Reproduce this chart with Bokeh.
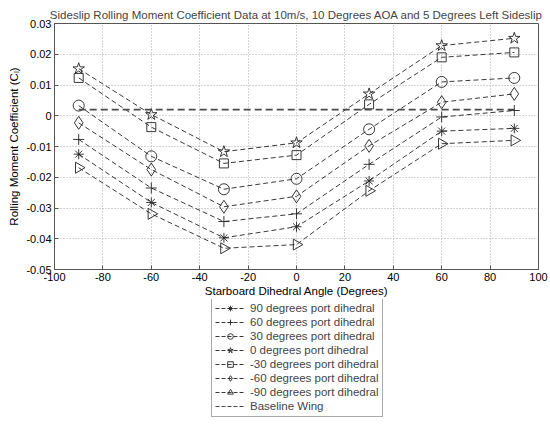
import math
from bokeh.plotting import figure
from bokeh.models import Range1d, FixedTicker, Legend, LegendItem
from bokeh.layouts import column
from bokeh.embed import file_html
from bokeh.resources import INLINE

# ---- data ----
angles = [-90, -60, -30, 0, 30, 60, 90]
port_90 = [-0.0125, -0.0282, -0.0397, -0.0361, -0.0212, -0.0050, -0.0041]
port_60 = [-0.0077, -0.0235, -0.0344, -0.0319, -0.0158, -0.0004, 0.0017]
port_30 = [0.0033, -0.0132, -0.0239, -0.0205, -0.0044, 0.0110, 0.0123]
port_0 = [0.0153, 0.0004, -0.0117, -0.0088, 0.0071, 0.0228, 0.0252]
port_m30 = [0.0123, -0.0037, -0.0155, -0.0128, 0.0037, 0.0190, 0.0206]
port_m60 = [-0.0023, -0.0175, -0.0296, -0.0262, -0.0098, 0.0044, 0.0071]
port_m90 = [-0.0169, -0.0319, -0.0431, -0.0419, -0.0244, -0.0091, -0.0080]
baseline_x = [-90, 90]
baseline_y = [0.002, 0.002]

series_labels = [
    "90 degrees port dihedral",
    "60 degrees port dihedral",
    "30 degrees port dihedral",
    "0 degrees port dihedral",
    "-30 degrees port dihedral",
    "-60 degrees port dihedral",
    "-90 degrees port dihedral",
]
baseline_label = "Baseline Wing"

x_ticks = [-100, -80, -60, -40, -20, 0, 20, 40, 60, 80, 100]
x_tick_labels = ["-100", "-80", "-60", "-40", "-20", "0", "20", "40", "60", "80", "100"]
y_ticks = [0.03, 0.02, 0.01, 0.0, -0.01, -0.02, -0.03, -0.04, -0.05]
y_tick_labels = ["0.03", "0.02", "0.01", "0", "-0.01", "-0.02", "-0.03", "-0.04", "-0.05"]

title_text = "Sideslip Rolling Moment Coefficient Data at 10m/s, 10 Degrees AOA and 5 Degrees Left Sideslip"
x_label = "Starboard Dihedral Angle (Degrees)"
y_label = "Rolling Moment Coefficient (C\u2097)"

FONT = "Liberation Sans"
LINE = "#3a3a3a"
EDGE = "#555555"

p = figure(
    frame_width=484, frame_height=246,
    output_backend="svg", toolbar_location=None,
    x_range=Range1d(-100, 100), y_range=Range1d(-0.05, 0.03),
    min_border_left=54, min_border_right=12, min_border_top=23, min_border_bottom=30,
)
p.background_fill_color = "white"
p.border_fill_color = "white"
p.outline_line_color = EDGE

p.title.text = title_text
p.title.align = "center"
p.title.text_font = FONT
p.title.text_font_size = "11.5px"
p.title.text_font_style = "normal"
p.title.standoff = 5

# axes
for ax in (p.xaxis[0], p.yaxis[0]):
    ax.major_label_text_font = FONT
    ax.major_label_text_font_size = "11px"
    ax.major_label_text_color = "black"
    ax.axis_label_text_font = FONT
    ax.axis_label_text_font_size = "11.5px"
    ax.axis_label_text_font_style = "normal"
    ax.axis_label_text_color = "black"
    ax.axis_line_color = EDGE
    ax.major_tick_line_color = EDGE
    ax.major_tick_in = 4
    ax.major_tick_out = 0
    ax.minor_tick_line_color = None
    ax.major_label_standoff = 3
    ax.axis_label_standoff = 3

p.xaxis[0].ticker = FixedTicker(ticks=x_ticks)
p.xaxis[0].major_label_overrides = {t: s for t, s in zip(x_ticks, x_tick_labels)}
p.yaxis[0].ticker = FixedTicker(ticks=y_ticks)
p.yaxis[0].major_label_overrides = {t: s for t, s in zip(y_ticks, y_tick_labels)}
p.xaxis[0].axis_label = x_label
p.yaxis[0].axis_label = y_label
p.xaxis[0].axis_label_standoff = 1

p.xgrid[0].ticker = FixedTicker(ticks=x_ticks)
p.ygrid[0].ticker = FixedTicker(ticks=y_ticks)
for g in (p.xgrid[0], p.ygrid[0]):
    g.grid_line_color = "#a8a8a8"
    g.grid_line_dash = "1 2"
    g.grid_line_width = 1

series = [port_90, port_60, port_30, port_0, port_m30, port_m60, port_m90]
markers = ["asterisk", "cross", "circle", "star", "square", "diamond", "triangle"]
sizes = [10, 11, 11, 12, 9, 13, 11]
angles_rot = [0, 0, 0, 0, 0, 0, -math.pi / 2]

for vals, mk, sz, rot in zip(series, markers, sizes, angles_rot):
    p.line(angles, vals, line_color=LINE, line_width=1, line_dash="5 3")
    p.scatter(angles, vals, marker=mk, size=sz, angle=rot,
              line_color="#222222", line_width=0.9, fill_color=None)
p.line(baseline_x, baseline_y, line_color="#4a4a4a", line_width=1.6, line_dash="7 4")

# ---- legend panel (separate figure below the plot) ----
# its ranges are far from the data, so the proxy glyphs stay off-screen
leg = figure(
    width=550, height=126, output_backend="svg", toolbar_location=None,
    x_range=Range1d(1000, 1001), y_range=Range1d(1000, 1001),
    min_border=0,
)
leg.axis.visible = False
leg.grid.visible = False
leg.outline_line_color = None
leg.background_fill_color = "white"
leg.border_fill_color = "white"

items = []
for vals, mk, rot, lab in zip(series, markers, angles_rot, series_labels):
    r_line = leg.line(angles, vals, line_color=LINE, line_width=1, line_dash="4 2")
    r_pt = leg.scatter(angles, vals, marker=mk, size=10, angle=rot,
                       line_color="#222222", line_width=0.9, fill_color=None)
    items.append(LegendItem(label=lab, renderers=[r_line, r_pt]))
r_b = leg.line(baseline_x, baseline_y, line_color="#4a4a4a", line_width=1.2, line_dash="4 2")
items.append(LegendItem(label=baseline_label, renderers=[r_b]))

legend = Legend(
    items=items, location=(157, 8), orientation="vertical",
    margin=0, padding=3, spacing=0,
    label_height=14, glyph_height=14, glyph_width=30, label_standoff=5,
    border_line_color=EDGE, border_line_width=1,
    label_text_font=FONT, label_text_font_size="11.5px",
    background_fill_color="white", background_fill_alpha=1,
)
leg.add_layout(legend, "center")

layout = column(p, leg, spacing=0)
open("out.html", "w").write(file_html(layout, INLINE))
